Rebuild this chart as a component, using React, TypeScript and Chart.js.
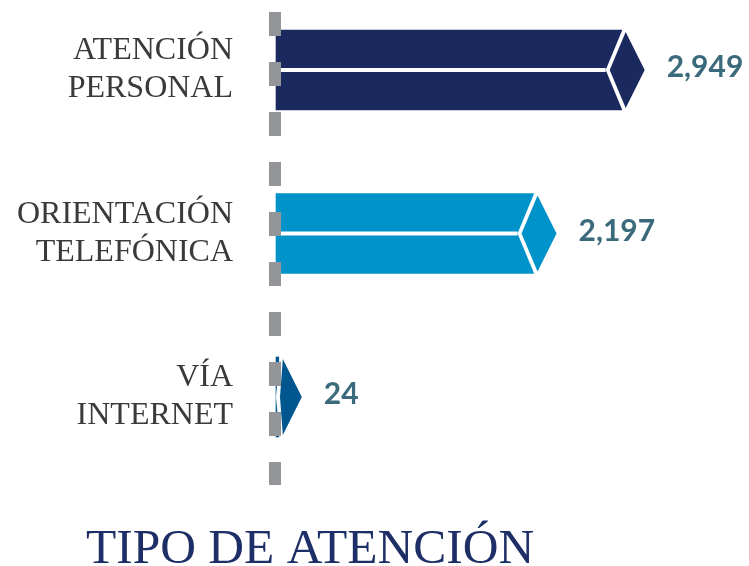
import React, { useEffect, useRef } from "react";
import { Chart, registerables } from "chart.js";

Chart.register(...registerables);

const categories: string[][] = [
  ["ATENCIÓN", "PERSONAL"],
  ["ORIENTACIÓN", "TELEFÓNICA"],
  ["VÍA", "INTERNET"],
];
const values: number[] = [2949, 2197, 24];
const valueLabels: string[] = ["2,949", "2,197", "24"];
const barColors: string[] = ["#1b2a5e", "#0093c9", "#00578f"];
const titleText = "TIPO DE ATENCIÓN";
const xMax = 3600;

const arrowPlugin = {
  id: "arrowCaps",
  afterDatasetsDraw(chart: any) {
    const ctx = chart.ctx as CanvasRenderingContext2D;
    const meta = chart.getDatasetMeta(0);
    const area = chart.chartArea;
    const base0 = chart.scales.x.getPixelForValue(0);
    const d = 16;
    const g = 4;
    meta.data.forEach((bar: any, i: number) => {
      const { x, y, base, height } = bar.getProps(["x", "y", "base", "height"], true);
      const top = y - height / 2;
      const bottom = y + height / 2;
      const notchX = Math.max(x - d, base);
      ctx.save();
      ctx.fillStyle = "#ffffff";
      ctx.beginPath();
      ctx.moveTo(x + 1, top - 1);
      ctx.lineTo(notchX, y);
      ctx.lineTo(x + 1, bottom + 1);
      ctx.closePath();
      ctx.fill();
      ctx.fillRect(base, y - 2, notchX - base, 4);
      ctx.fillStyle = barColors[i];
      ctx.beginPath();
      ctx.moveTo(notchX + g, y);
      ctx.lineTo(x + g, top + 2);
      ctx.lineTo(x + 23, y);
      ctx.lineTo(x + g, bottom - 2);
      ctx.closePath();
      ctx.fill();
      ctx.fillStyle = "#3b6a7d";
      ctx.font = "bold 30px Lato";
      ctx.textAlign = "left";
      ctx.textBaseline = "alphabetic";
      ctx.fillText(valueLabels[i], x + 23 + 22, y + 7);
      ctx.restore();
    });
    ctx.save();
    ctx.strokeStyle = "#939598";
    ctx.lineWidth = 12;
    ctx.setLineDash([24, 26]);
    ctx.beginPath();
    ctx.moveTo(base0 - 1, area.top - 58);
    ctx.lineTo(base0 - 1, area.bottom + 88);
    ctx.stroke();
    ctx.restore();
  },
  afterDraw(chart: any) {
    const ctx = chart.ctx as CanvasRenderingContext2D;
    const area = chart.chartArea;
    ctx.save();
    ctx.fillStyle = "#1d2f66";
    ctx.font = 'normal 49.5px "Liberation Serif"';
    ctx.textAlign = "left";
    ctx.textBaseline = "alphabetic";
    ctx.fillText(titleText, area.left - 190, area.bottom + 166);
    ctx.restore();
  },
};

export default function App() {
  const ref = useRef<HTMLCanvasElement | null>(null);
  useEffect(() => {
    document.body.style.margin = "0";
    const canvas = ref.current;
    if (!canvas) return;
    const chart = new Chart(canvas, {
      type: "bar",
      data: {
        labels: categories,
        datasets: [
          {
            data: values,
            backgroundColor: barColors,
            borderWidth: 0,
            barThickness: 80,
            clip: false as any,
          },
        ],
      },
      options: {
        indexAxis: "y",
        animation: false,
        responsive: false,
        devicePixelRatio: 1,
        layout: { padding: { left: 0, right: 51, top: 70, bottom: 169 } },
        scales: {
          x: { type: "linear", min: 0, max: xMax, display: false },
          y: {
            type: "category",
            offset: false,
            grid: { display: false, drawTicks: false },
            border: { display: false },
            ticks: {
              padding: 43,
              color: "#3a3a3a",
              font: { family: '"Liberation Serif"', size: 32, lineHeight: 1.19 },
            },
            afterFit(scale: any) {
              scale.width = 276;
              scale.paddingTop = 0;
              scale.paddingBottom = 0;
            },
          },
        },
        plugins: {
          legend: { display: false },
          tooltip: { enabled: false },
          title: { display: false },
        },
      },
      plugins: [arrowPlugin],
    });
    return () => chart.destroy();
  }, []);
  return (
    <div style={{ width: 749, height: 566 }}>
      <canvas ref={ref} width={749} height={566} style={{ width: 749, height: 566, display: "block" }} />
    </div>
  );
}
